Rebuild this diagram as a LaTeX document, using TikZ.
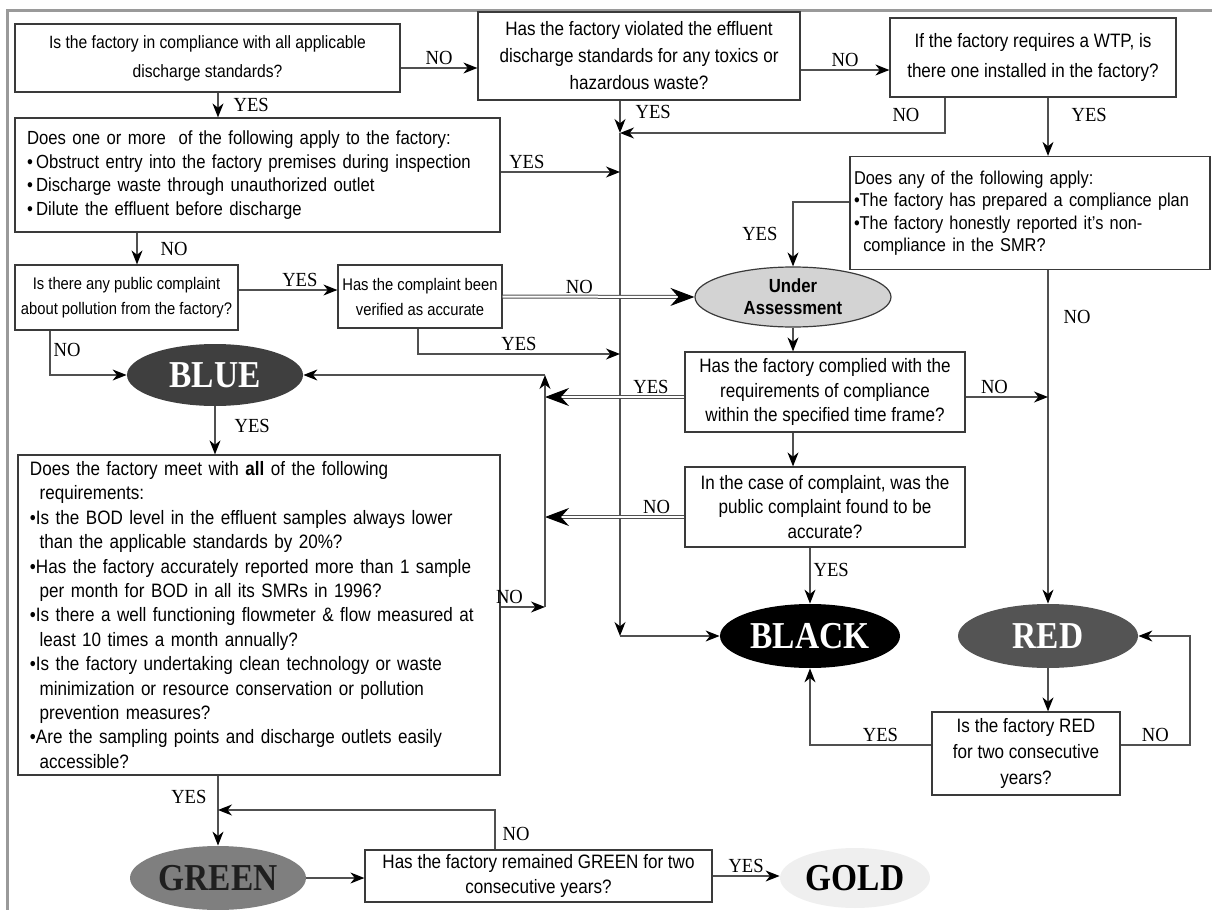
\documentclass[tikz,border=0pt]{standalone}
\usepackage{fontspec}
\setmainfont{Liberation Sans}[FakeStretch=0.88]
\newfontfamily\lblfont{Liberation Serif}[FakeStretch=0.93]
\newfontfamily\ovalfont{Liberation Serif}[FakeStretch=0.88]
\usetikzlibrary{arrows.meta,shapes.geometric}
\definecolor{linegray}{HTML}{505050}
\definecolor{boxgray}{HTML}{3A3A3A}
\definecolor{framegray}{HTML}{9A9A9A}
\definecolor{bluefill}{HTML}{3F3F3F}
\definecolor{redfill}{HTML}{545454}
\definecolor{greenfill}{HTML}{7F7F7F}
\definecolor{goldfill}{HTML}{EFEFEF}
\definecolor{underfill}{HTML}{D3D3D3}
\begin{document}
\begin{tikzpicture}[x=0.5pt,y=-0.5pt,
  qbox/.style={draw=boxgray,line width=0.6pt,inner sep=2pt,align=center,font=\fontsize{9.7}{12.2}\selectfont},
  lbox/.style={qbox,align=left,inner xsep=6pt},
  oval/.style={ellipse,inner sep=0pt,text=white,font=\ovalfont\bfseries\fontsize{19}{19}\selectfont},
  lbl/.style={font=\lblfont\fontsize{10}{10}\selectfont,inner sep=1.5pt},
  arr/.style={draw=linegray,line width=0.6pt,-{Stealth[length=7pt,width=5.5pt,inset=2.2pt,color=black]}},
  dbl/.style={draw=linegray,double,double distance=1pt,line width=0.5pt,-{Stealth[length=12pt,width=9pt,inset=4pt,color=black]}}]
\useasboundingbox (0,0) rectangle (1212,910);
\draw[framegray,line width=1.5pt] (7,910) -- (7,10) -- (1212,10);

% question boxes
\node[qbox,minimum width=192.5pt,minimum height=34pt,font=\fontsize{8.9}{14.5}\selectfont] (comply) at (207.5,58)
  {Is the factory in compliance with all applicable\\discharge standards?};
\node[qbox,minimum width=161pt,minimum height=44pt,font=\fontsize{9.7}{13.5}\selectfont] (toxic) at (639,56)
  {Has the factory violated the effluent\\discharge standards for any toxics or\\hazardous waste?};
\node[qbox,minimum width=143pt,minimum height=39.5pt,font=\fontsize{9.7}{15}\selectfont] (wtp) at (1033,57.5)
  {If the factory requires a WTP, is\\there one installed in the factory?};
\node[lbox,text width=230.5pt,minimum height=57pt,font=\fontsize{9.5}{11.8}\selectfont] (obstruct) at (257.5,175)
  {Does one or more\ \ of the following apply to the factory:\\
   \textbullet\,Obstruct entry into the factory premises during inspection\\
   \textbullet\,Discharge waste through unauthorized outlet\\
   \textbullet\,Dilute the effluent before discharge};
\node[lbox,inner xsep=2pt,text width=176pt,minimum height=56.5pt,font=\fontsize{9.3}{11.2}\selectfont] (plan) at (1030,213)
  {Does any of the following apply:\\
   \textbullet The factory has prepared a compliance plan\\
   \textbullet The factory honestly reported it's non-\\
   \hspace*{0.5em}compliance in the SMR?};
\node[qbox,minimum width=111.5pt,minimum height=32.5pt,font=\fontsize{8.4}{12.5}\selectfont] (complaint) at (126.5,297.5)
  {Is there any public complaint\\about pollution from the factory?};
\node[qbox,minimum width=82pt,minimum height=31.5pt,font=\fontsize{8.4}{12.5}\selectfont] (verified) at (420,296.5)
  {Has the complaint been\\verified as accurate};
\node[qbox,minimum width=140pt,minimum height=40pt] (timeframe) at (825,392)
  {Has the factory complied with the\\requirements of compliance\\within the specified time frame?};
\node[qbox,minimum width=140pt,minimum height=40pt] (accurate) at (825,507)
  {In the case of complaint, was the\\public complaint found to be\\accurate?};
\node[lbox,text width=229pt,minimum height=160pt] (meetall) at (259,615)
  {Does the factory meet with \textbf{all} of the following\\
   \hspace*{0.5em}requirements:\\
   \textbullet Is the BOD level in the effluent samples always lower\\
   \hspace*{0.5em}than the applicable standards by 20\%?\\
   \textbullet Has the factory accurately reported more than 1 sample\\
   \hspace*{0.5em}per month for BOD in all its SMRs in 1996?\\
   \textbullet Is there a well functioning flowmeter \& flow measured at\\
   \hspace*{0.5em}least 10 times a month annually?\\
   \textbullet Is the factory undertaking clean technology or waste\\
   \hspace*{0.5em}minimization or resource conservation or pollution\\
   \hspace*{0.5em}prevention measures?\\
   \textbullet Are the sampling points and discharge outlets easily\\
   \hspace*{0.5em}accessible?};
\node[qbox,minimum width=94pt,minimum height=41.5pt,font=\fontsize{9.7}{13}\selectfont] (redtwice) at (1026,753.5)
  {Is the factory RED\\for two consecutive\\years?};
\node[qbox,minimum width=173.5pt,minimum height=26pt] (greentwice) at (538.5,876)
  {Has the factory remained GREEN for two\\consecutive years?};

% ratings
\node[ellipse,draw=boxgray,line width=0.6pt,fill=underfill,inner sep=0pt,minimum width=98pt,minimum height=30pt,
  align=center,font=\bfseries\fontsize{9.5}{11}\selectfont] (under) at (793,297) {Under\\Assessment};
\node[oval,fill=bluefill,minimum width=88pt,minimum height=31pt] (blue) at (215,375) {BLUE};
\node[oval,fill=black,minimum width=90pt,minimum height=32pt] (black) at (810,636) {BLACK};
\node[oval,fill=redfill,minimum width=90pt,minimum height=32pt] (red) at (1048,636) {RED};
\node[oval,fill=greenfill,text=black!88,minimum width=88pt,minimum height=32pt] (green) at (218,878) {GREEN};
\node[oval,fill=goldfill,text=black,minimum width=75pt,minimum height=30pt] (gold) at (855,878) {GOLD};

% connector lanes
\foreach \n/\x/\y in {pAB/0/68,cAC/218/0,pBW/0/70,trunk/620/0,rW/0/133,cWno/945/0,rC/0/172,cCE/137/0,
  rEF/0/290,cF/418/0,rF/0/354,cE/50/0,rD/0/202,rG/0/397,rH/0/517,rI/0/607,loop/545/0,cK/495/0,rK/0/810,
  rJ/0/745,cJ/1190/0}
  \coordinate (\n) at (\x,\y);

\draw[arr] (comply.east |- pAB) -- node[lbl,above]{NO} (toxic.west |- pAB);
\draw[arr] (cAC |- comply.south) -- node[lbl,right,xshift=6pt]{YES} (cAC |- obstruct.north);
\draw[arr] (toxic.east |- pBW) -- node[lbl,above]{NO} (wtp.west |- pBW);
\draw[arr] (trunk |- toxic.south) -- node[lbl,right,pos=0.35,xshift=6pt]{YES} (trunk |- rW);
\draw[arr] (cWno |- wtp.south) -- node[lbl,left,xshift=-11pt]{NO} (cWno |- rW) -- (trunk |- rW);
\draw[arr] (red |- wtp.south) -- node[lbl,right,xshift=10pt,pos=0.3]{YES} (red |- plan.north);
\draw[arr] (trunk |- rW) -- (trunk |- black.west);
\draw[arr] (trunk |- black.west) -- (black.west);
\draw[arr] (obstruct.east |- rC) -- node[lbl,above,pos=0.22]{YES} (trunk |- rC);
\draw[arr] (cCE |- obstruct.south) -- node[lbl,right,xshift=10pt]{NO} (cCE |- complaint.north);
\draw[arr] (complaint.east |- rEF) -- node[lbl,above,pos=0.62]{YES} (verified.west |- rEF);
\draw[dbl] (verified.east) -- node[lbl,above,pos=0.4]{NO} (under.west);
\draw[arr] (cF |- verified.south) |- node[lbl,above,pos=0.75]{YES} (trunk |- rF);
\draw[arr] (cE |- complaint.south) |- node[lbl,right,pos=0.22]{NO} (blue.west);
\draw[arr] (plan.west |- rD) -| node[lbl,left,pos=0.75,xshift=-6pt]{YES} (under.north);
\draw[arr] (red |- plan.south) -- node[lbl,right,pos=0.14,xshift=6pt]{NO} (red.north);
\draw[arr] (under.south) -- (under.south |- timeframe.north);
\draw[dbl] (timeframe.west |- rG) -- node[lbl,above,pos=0.24]{YES} (loop |- rG);
\draw[arr] (timeframe.east |- rG) -- node[lbl,above,pos=0.35]{NO} (red |- rG);
\draw[arr] (under.south |- timeframe.south) -- (under.south |- accurate.north);
\draw[dbl] (accurate.west |- rH) -- node[lbl,above,pos=0.2]{NO} (loop |- rH);
\draw[arr] (black |- accurate.south) -- node[lbl,right,pos=0.4]{YES} (black.north);
\draw[arr] (blue.south) -- node[lbl,right,pos=0.4,xshift=8pt]{YES} (blue |- meetall.north);
\draw[arr] (meetall.east |- rI) -- node[lbl,above,pos=0.2]{NO} (loop |- rI);
\draw[arr] (loop |- rI) -- (loop |- blue.east);
\draw[arr] (loop |- blue.east) -- (blue.east);
\draw[arr] (green |- meetall.south) -- node[lbl,left,pos=0.3,xshift=-4pt]{YES} (green.north);
\draw[arr] (cK |- greentwice.north) -- node[lbl,right,pos=0.4,xshift=2pt]{NO} (cK |- rK) -- (green |- rK);
\draw[arr] (green.east) -- (green.east -| greentwice.west);
\draw[arr] (greentwice.east) -- node[lbl,above]{YES} (greentwice.east -| gold.west);
\draw[arr] (red.south) -- (red |- redtwice.north);
\draw[arr] (redtwice.west |- rJ) -| node[lbl,above,pos=0.21]{YES} (black.south);
\draw[arr] (redtwice.east |- rJ) -- node[lbl,above]{NO} (cJ |- rJ) |- (red.east);
\end{tikzpicture}
\end{document}
